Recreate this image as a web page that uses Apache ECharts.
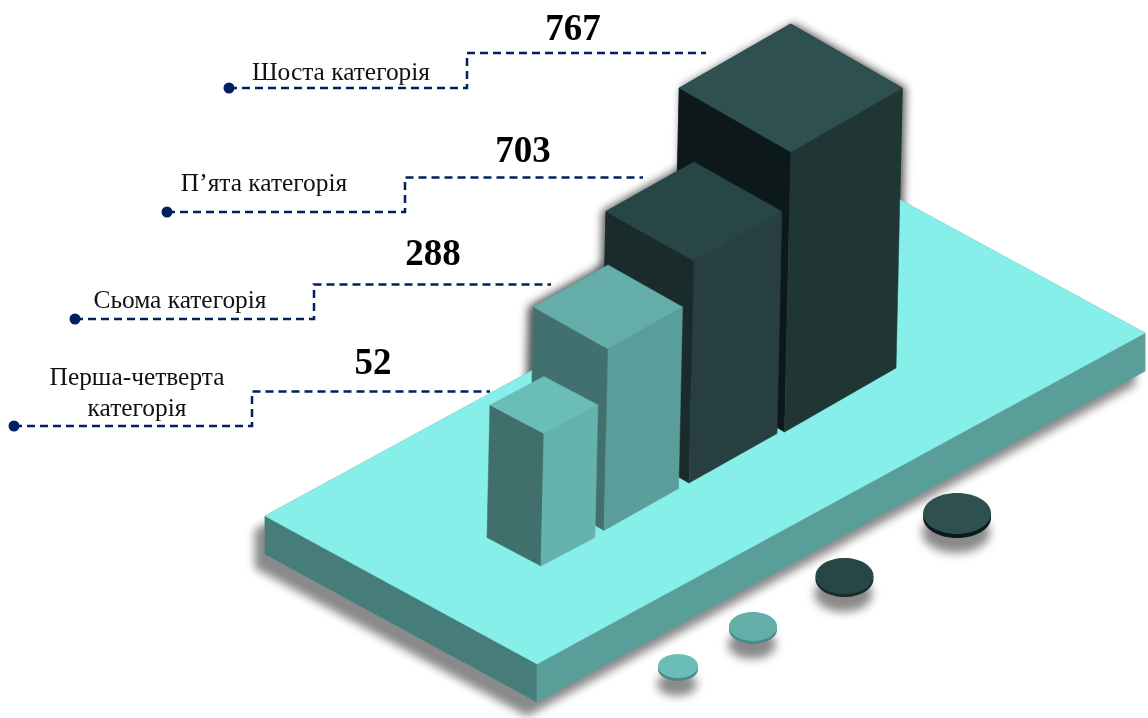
<!DOCTYPE html>
<html>
<head>
<meta charset="utf-8">
<style>html,body{margin:0;padding:0;background:#fff}#chart{width:1148px;height:718px}</style>
<script src="https://cdn.jsdelivr.net/npm/echarts@6/dist/echarts.min.js"></script>
</head>
<body>
<div id="chart"></div>
<script>
// ---- Data, back bar to front bar ----
const categories = ['Шоста категорія', 'П’ята категорія', 'Сьома категорія', 'Перша-четверта\nкатегорія'];
const values = [767, 703, 288, 52];
// Drawn column heights (the source art is not to scale)
const columnRise = [280, 222, 181.5, 132.5];

// ---- Isometric layout: platform-plane units (0..100 across the slab) ----
const ORIGIN = [265, 516];
const U = [6.08, -3.31];
const V = [2.72, 1.48];
const LEAN = 0.022;
const SLAB = 38;
const barU = [65.08, 47.33, 32.03, 19.44];
const barV = [45.54, 50.1, 53.05, 58.0];
const barHalfU = [9.17, 7.235, 6.125, 4.44];
const barHalfV = [20.5, 16.175, 13.695, 9.925];
const barPitch = [1.055, 1.034, 1.036, 0.97];
const discU = [57.28, 38.58, 23.42, 11.29];
const discV = [126.4, 126.8, 127.06, 126.6];
const discRx = [34, 29, 24, 20];
const discRy = [20.5, 18, 14.5, 12];
const discEdge = [4, 3, 3, 3];
// [dot x, dot y, elbow x, upper y, end x]
const leaders = [[229, 88, 467, 53, 706], [167, 212, 405, 177.5, 643], [75, 319, 314, 284.5, 551], [14, 426, 252, 391.5, 490]];
const categoryPos = [[341, 73], [264, 184], [180, 301], [137, 394]];
const valuePos = [[573, 30], [523, 152], [433, 255], [373, 364]];

// ---- Styles ----
const topColors = ['#2F5050', '#294646', '#64ADA9', '#6BBDB8'];
const leftColors = ['#0C1819', '#1A2B2B', '#41706E', '#41706C'];
const rightColors = ['#203635', '#273F40', '#5A9E9B', '#65B3AF'];
const discEdgeColors = ['#0C1819', '#1A2B2B', '#4A8A86', '#4A8A86'];
const barShadowX = [3, -3, -5, 0];
const NAVY = '#002060';
const SERIF = '"Liberation Serif", "Times New Roman", serif';

function project(u, v) {
  return [ORIGIN[0] + u * U[0] + v * V[0], ORIGIN[1] + u * U[1] + v * V[1]];
}
function poly(api, pts, fill, extra) {
  return {
    type: 'polygon',
    shape: { points: pts.map(p => api.coord(p)) },
    style: Object.assign({ fill: fill, stroke: fill, lineWidth: 0.5 }, extra || {})
  };
}

function renderPlatform(params, api) {
  const L = project(0, 0), B = project(100, 0), R = project(100, 100), F = project(0, 100);
  const d = p => [p[0], p[1] + SLAB];
  return { type: 'group', children: [
    poly(api, [L, B, R, d(R), d(F), d(L)], '#5A9E9A',
      { shadowBlur: 9, shadowColor: '#8a8a8a', shadowOffsetX: -10, shadowOffsetY: 14 }),
    poly(api, [L, F, d(F), d(L)], '#467D7A'),
    poly(api, [F, R, d(R), d(F)], '#5A9E9A'),
    poly(api, [L, B, R, F], '#87EFEA')
  ] };
}

function barCorners(i, rise) {
  const du = barHalfU[i], dv = barHalfV[i], pitch = barPitch[i];
  const c = project(barU[i], barV[i]);
  const corner = (su, sv, w) => {
    const off = project(barU[i] + su * du, barV[i] + sv * dv);
    return [off[0] + LEAN * w, c[1] + (off[1] - c[1]) * pitch - w];
  };
  return {
    tB: corner(1, -1, rise), tL: corner(-1, -1, rise), tF: corner(-1, 1, rise), tR: corner(1, 1, rise),
    bL: corner(-1, -1, 0), bF: corner(-1, 1, 0), bR: corner(1, 1, 0)
  };
}

// The columns' soft shadow sits behind the slab, so it only shows against the white page
function renderBarShadow(params, api) {
  const i = api.value(0);
  const k = barCorners(i, api.value(2));
  return poly(api, [k.tL, k.tB, k.tR, k.bR, k.bF, k.bL], rightColors[i],
    { shadowBlur: 9, shadowColor: 'rgba(50,50,50,0.85)', shadowOffsetX: barShadowX[i], shadowOffsetY: 0 });
}

function renderBar(params, api) {
  const i = api.value(0);
  const k = barCorners(i, api.value(2));
  return { type: 'group', children: [
    poly(api, [k.tL, k.tF, k.bF, k.bL], leftColors[i]),
    poly(api, [k.tF, k.tR, k.bR, k.bF], rightColors[i]),
    poly(api, [k.tL, k.tB, k.tR, k.tF], topColors[i])
  ] };
}

function renderDisc(params, api) {
  const i = api.value(0);
  const c = api.coord(project(discU[i], discV[i]));
  return { type: 'group', children: [
    { type: 'ellipse', shape: { cx: c[0], cy: c[1] + discEdge[i], rx: discRx[i], ry: discRy[i] },
      style: { fill: discEdgeColors[i], shadowBlur: 10, shadowColor: '#8a8a8a', shadowOffsetX: -1, shadowOffsetY: 15 } },
    { type: 'ellipse', shape: { cx: c[0], cy: c[1], rx: discRx[i], ry: discRy[i] },
      style: { fill: topColors[i] } }
  ] };
}

function renderLeader(params, api) {
  const i = api.value(0);
  const l = leaders[i];
  const pts = [[l[0], l[1]], [l[2], l[1]], [l[2], l[3]], [l[4], l[3]]].map(p => api.coord(p));
  const dot = api.coord([l[0], l[1]]);
  const cp = api.coord(categoryPos[i]), vp = api.coord(valuePos[i]);
  return { type: 'group', children: [
    { type: 'polyline', shape: { points: pts },
      style: { fill: null, stroke: NAVY, lineWidth: 2.5, lineDash: [8, 5] } },
    { type: 'circle', shape: { cx: dot[0], cy: dot[1], r: 5.5 }, style: { fill: NAVY } },
    { type: 'text', x: cp[0], y: cp[1],
      style: { text: categories[i], fontFamily: SERIF, fontSize: 25.4, lineHeight: 31, fill: '#111',
               align: 'center', verticalAlign: 'middle' } },
    { type: 'text', x: vp[0], y: vp[1],
      style: { text: String(values[i]), fontFamily: SERIF, fontSize: 37, fontWeight: 'bold', fill: '#000',
               align: 'center', verticalAlign: 'middle' } }
  ] };
}

const rows = values.map((v, i) => [i, v, columnRise[i]]);
const hidden = { show: false, splitLine: { show: false } };
const chart = echarts.init(document.getElementById('chart'), null, { renderer: 'canvas' });
chart.setOption({
  animation: false,
  backgroundColor: '#fff',
  grid: { left: 0, right: 0, top: 0, bottom: 0 },
  xAxis: Object.assign({ type: 'value', min: 0, max: 1148 }, hidden),
  yAxis: Object.assign({ type: 'value', min: 0, max: 718, inverse: true }, hidden),
  series: [
    { type: 'custom', name: 'columnShadows', silent: true, z: 1, renderItem: renderBarShadow, data: rows },
    { type: 'custom', name: 'platform', silent: true, z: 2, renderItem: renderPlatform, data: [[0]] },
    { type: 'custom', name: 'discs', silent: true, z: 3, renderItem: renderDisc, data: rows },
    { type: 'custom', name: 'columns', silent: true, z: 4, renderItem: renderBar, data: rows },
    { type: 'custom', name: 'leaders', silent: true, z: 5, renderItem: renderLeader, data: rows }
  ]
});
</script>
</body>
</html>
